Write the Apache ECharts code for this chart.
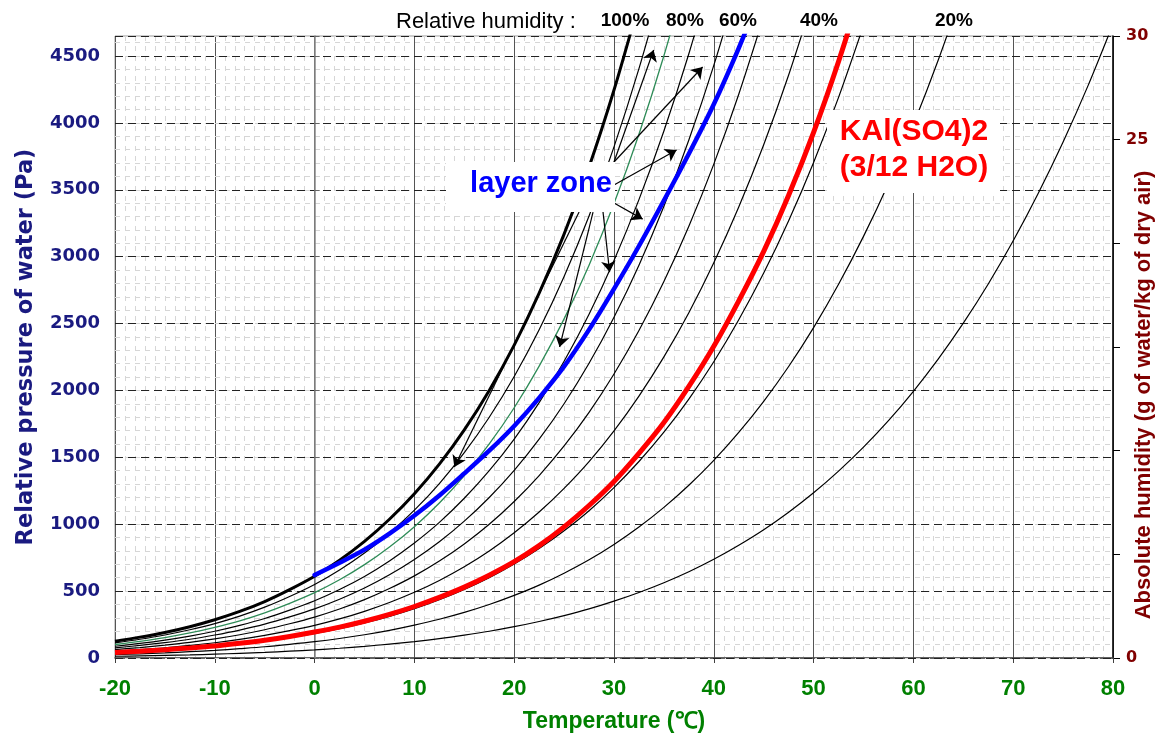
<!DOCTYPE html>
<html>
<head>
<meta charset="utf-8">
<script src="https://cdn.jsdelivr.net/npm/echarts@6/dist/echarts.min.js"></script>
<style>html,body{margin:0;padding:0;background:#fff}#c{width:1162px;height:740px}</style>
</head>
<body>
<div id="c"></div>
<script>
// Temperatures (°C) shared by the relative-humidity curves (every 2.5 °C)
const TEMPS = [-20,-17.5,-15,-12.5,-10,-7.5,-5,-2.5,0,2.5,5,7.5,10,12.5,15,17.5,20,22.5,25,27.5,30,32.5,35,37.5,40,42.5,45,47.5,50,52.5,55,57.5,60,62.5,65,67.5,70,72.5,75,77.5,80];
// Water vapour pressure (Pa) along each relative-humidity curve
const RH100 = [126,156,191,234,286,348,422,511,611,731,872,1037,1228,1449,1705,2000,2339,2727,3169,3671,4246,4895];
const RH90  = [113,140,172,211,257,313,380,460,550,658,785,933,1105,1304,1535,1800,2105,2454,2852,3304,3821,4406,5065];
const RH80  = [101,125,153,187,229,278,338,409,489,585,698,830,982,1159,1364,1600,1871,2182,2535,2937,3397,3916,4502,5162];
const RH70  = [88,109,134,164,200,244,295,358,428,512,610,726,860,1014,1194,1400,1637,1909,2218,2570,2972,3427,3940,4517,5169];
const RH60  = [76,94,115,140,172,209,253,307,367,439,523,622,737,869,1023,1200,1403,1636,1901,2203,2548,2937,3377,3872,4430,5057];
const RH50  = [63,78,96,117,143,174,211,256,306,366,436,519,614,725,853,1000,1170,1364,1585,1836,2123,2448,2814,3227,3692,4215,4797];
const RH40  = [50,62,76,94,114,139,169,204,244,292,349,415,491,580,682,800,936,1091,1268,1468,1698,1958,2251,2581,2954,3372,3837,4358,4940];
const RH30  = [38,47,57,70,86,104,127,153,183,219,262,311,368,435,512,600,702,818,951,1101,1274,1469,1688,1936,2215,2529,2878,3269,3705,4191,4728];
const RH20  = [25,31,38,47,57,70,84,102,122,146,174,207,246,290,341,400,468,545,634,734,849,979,1126,1291,1477,1686,1919,2179,2470,2794,3152,3548,3988,4472,5006];
const RH10  = [13,16,19,23,29,35,42,51,61,73,87,104,123,145,171,200,234,273,317,367,425,490,563,645,738,843,959,1090,1235,1397,1576,1774,1994,2236,2503,2796,3119,3473,3858,4279,4739];
// "layer zone" boundary curve (blue)
const BLUE_T = [0,2.5,5,7.5,10,12.5,15,17.5,20,22.5,25,27.5,30,32.5,35,37.5,40,42.5,45];
const BLUE_P = [620,712,810,930,1065,1215,1380,1550,1735,1945,2180,2455,2760,3080,3420,3770,4140,4560,5020];
// KAl(SO4)2 (3/12 H2O) equilibrium curve (red)
const RED_T = [-20,-17.5,-15,-12.5,-10,-7.5,-5,-2.5,0,2.5,5,7.5,10,12.5,15,17.5,20,22.5,25,27.5,30,32.5,35,37.5,40,42.5,45,47.5,50,52.5,55];
const RED_P = [42,51,62,75,90,110,133,161,194,231,275,326,385,453,530,619,720,840,980,1140,1320,1530,1760,2030,2330,2670,3040,3460,3930,4460,5050];
// Annotation arrows from the "layer zone" label: [start [T,P], end [T,P]]
const ARROWS = [
  [[26.5,3334],[14.0,1428]],
  [[27.9,3334],[24.55,2325]],
  [[28.9,3334],[29.56,2885]],
  [[30.0,3401],[32.87,3281]],
  [[30.0,3536],[36.27,3797]],
  [[30.0,3708],[38.88,4418]],
  [[30.0,3708],[33.97,4545]]
];
// Axis ticks
const X_MIN = -20, X_MAX = 80, X_STEP = 10;
const Y_MIN = 0, Y_MAX = 4650, Y_STEP = 500;
const Y2_MIN = 0, Y2_MAX = 30, Y2_STEP = 5;
const Y2_LABELS = [0, 25, 30];
const RH_TOP_LABELS = ['100%','80%','60%','40%','20%'];

function pairs(xs, ys){ return ys.map((y,i)=>[xs[i], y]); }

const thin = (vals)=>({type:'line', data:pairs(TEMPS, vals), smooth:0.3, showSymbol:false, symbol:'none',
  lineStyle:{color:'#000', width:1.2}, silent:true, z:3});

const chart = echarts.init(document.getElementById('c'), null, {renderer:'canvas'});

const option = {
  animation:false,
  backgroundColor:'#fff',
  grid:{left:115, right:49, top:36, bottom:82, show:true, borderColor:'#9a9a9a', borderWidth:1,
        containLabel:false, outerBoundsMode:'none'},
  xAxis:[{
    type:'value', min:X_MIN, max:X_MAX, interval:X_STEP,
    name:'Temperature (℃)', nameLocation:'middle', nameGap:52,
    nameTextStyle:{color:'#008000', fontWeight:'bold', fontSize:23, fontFamily:'"Liberation Sans Narrow","Liberation Sans",Arial'},
    axisLine:{show:true, onZero:false, lineStyle:{color:'#404040', width:1.5}},
    axisTick:{show:true, length:5, lineStyle:{color:'#404040'}},
    axisLabel:{color:'#008000', fontWeight:'bold', fontSize:22, margin:20, fontFamily:'"Liberation Sans Narrow","Liberation Sans",Arial'},
    splitLine:{show:true, lineStyle:{color:'#555', width:1}},
    minorTick:{show:false, splitNumber:10},
    minorSplitLine:{show:true, lineStyle:{color:'#d6d6d6', width:1, type:[5,5]}}
  }],
  yAxis:[{
    type:'value', min:Y_MIN, max:Y_MAX, interval:Y_STEP, position:'left',
    name:'Relative pressure of water (Pa)', nameLocation:'middle', nameGap:77, nameRotate:90,
    nameTextStyle:{color:'#1a1a80', fontWeight:'bold', fontSize:22.5, fontFamily:'"DejaVu Sans"'},
    axisLine:{show:true, lineStyle:{color:'#8a8a8a', width:1.5}},
    axisTick:{show:true, inside:true, length:5, lineStyle:{color:'#666'}},
    axisLabel:{color:'#1a1a80', fontWeight:'bold', fontSize:18, margin:15, fontFamily:'"DejaVu Sans"',
      formatter:(v)=> (v % Y_STEP === 0 ? String(v) : '')},
    splitLine:{show:true, lineStyle:{color:'#222', width:1, type:[8,5]}},
    z:2
  },{
    type:'value', min:Y2_MIN, max:Y2_MAX, interval:Y2_STEP, position:'right',
    axisLine:{show:true, lineStyle:{color:'#000', width:1.5}},
    axisTick:{show:true, length:7, lineStyle:{color:'#000'}},
    axisLabel:{color:'#800000', fontWeight:'bold', fontSize:16, margin:13, fontFamily:'"DejaVu Sans"',
      formatter:(v)=> (Y2_LABELS.indexOf(v) >= 0 ? String(v) : '')},
    splitLine:{show:false}
  },{
    type:'value', min:Y_MIN, max:Y_MAX, interval:100, position:'left', show:true,
    axisLine:{show:false}, axisTick:{show:false}, axisLabel:{show:false},
    splitLine:{show:true, lineStyle:{color:'#d6d6d6', width:1, type:[5,5]}},
    z:1
  }],
  series:[
    thin(RH10), thin(RH20), thin(RH30), thin(RH40), thin(RH50), thin(RH60), thin(RH70), thin(RH90),
    {type:'line', data:pairs(TEMPS, RH80), smooth:0.3, symbol:'none', silent:true,
      lineStyle:{color:'#2e8b57', width:1.3}, z:4},
    {type:'line', data:pairs(TEMPS, RH100), smooth:0.3, symbol:'none', silent:true,
      lineStyle:{color:'#000', width:3}, z:5},
    {type:'line', data:pairs(RED_T, RED_P), smooth:0.3, symbol:'none', silent:true,
      lineStyle:{color:'#ff0000', width:5}, z:6},
    {type:'line', data:pairs(BLUE_T, BLUE_P), smooth:0.3, symbol:'none', silent:true,
      lineStyle:{color:'#0000ff', width:4.5, cap:'round'}, z:7},
    {type:'line', data:[], symbol:'none', silent:true, z:8,
      markLine:{silent:true, animation:false, symbol:['none','arrow'], symbolSize:11,
        label:{show:false}, lineStyle:{color:'#000', width:1.2, type:'solid'},
        emphasis:{disabled:true},
        data:ARROWS.map(a=>[{coord:a[0]},{coord:a[1]}])}}
  ],
  graphic:[
    {type:'text', z:100, style:{text:'Relative humidity :', x:396, y:22, verticalAlign:'middle', font:'22px "Liberation Sans",Arial', fill:'#000'}},
    {type:'text', z:100, style:{text:RH_TOP_LABELS[0], x:625, y:21, align:'center', verticalAlign:'middle', font:'bold 19px "Liberation Sans",Arial', fill:'#000'}},
    {type:'text', z:100, style:{text:RH_TOP_LABELS[1], x:685, y:21, align:'center', verticalAlign:'middle', font:'bold 19px "Liberation Sans",Arial', fill:'#000'}},
    {type:'text', z:100, style:{text:RH_TOP_LABELS[2], x:738, y:21, align:'center', verticalAlign:'middle', font:'bold 19px "Liberation Sans",Arial', fill:'#000'}},
    {type:'text', z:100, style:{text:RH_TOP_LABELS[3], x:819, y:21, align:'center', verticalAlign:'middle', font:'bold 19px "Liberation Sans",Arial', fill:'#000'}},
    {type:'text', z:100, style:{text:RH_TOP_LABELS[4], x:954, y:21, align:'center', verticalAlign:'middle', font:'bold 19px "Liberation Sans",Arial', fill:'#000'}},
    {type:'text', z:100, x:1144, y:395, rotation:Math.PI/2,
      style:{text:'Absolute humidity (g of water/kg of dry air)', x:0, y:0, align:'center', verticalAlign:'middle',
        font:'bold 22px "Liberation Sans",Arial', fill:'#800000'}},
    {type:'rect', z:100, shape:{x:446, y:162, width:169, height:50}, style:{fill:'#fff'}},
    {type:'text', z:101, style:{text:'layer zone', x:541, y:184, align:'center', verticalAlign:'middle', font:'bold 29px "Liberation Sans",Arial', fill:'#0000ff'}},
    {type:'rect', z:100, shape:{x:827, y:110, width:173, height:83}, style:{fill:'#fff'}},
    {type:'text', z:101, style:{text:'KAl(SO4)2\n(3/12 H2O)', x:914, y:150, align:'center', verticalAlign:'middle', lineHeight:36, font:'bold 30px "Liberation Sans",Arial', fill:'#ff0000'}}
  ]
};
chart.setOption(option);
</script>
</body>
</html>
